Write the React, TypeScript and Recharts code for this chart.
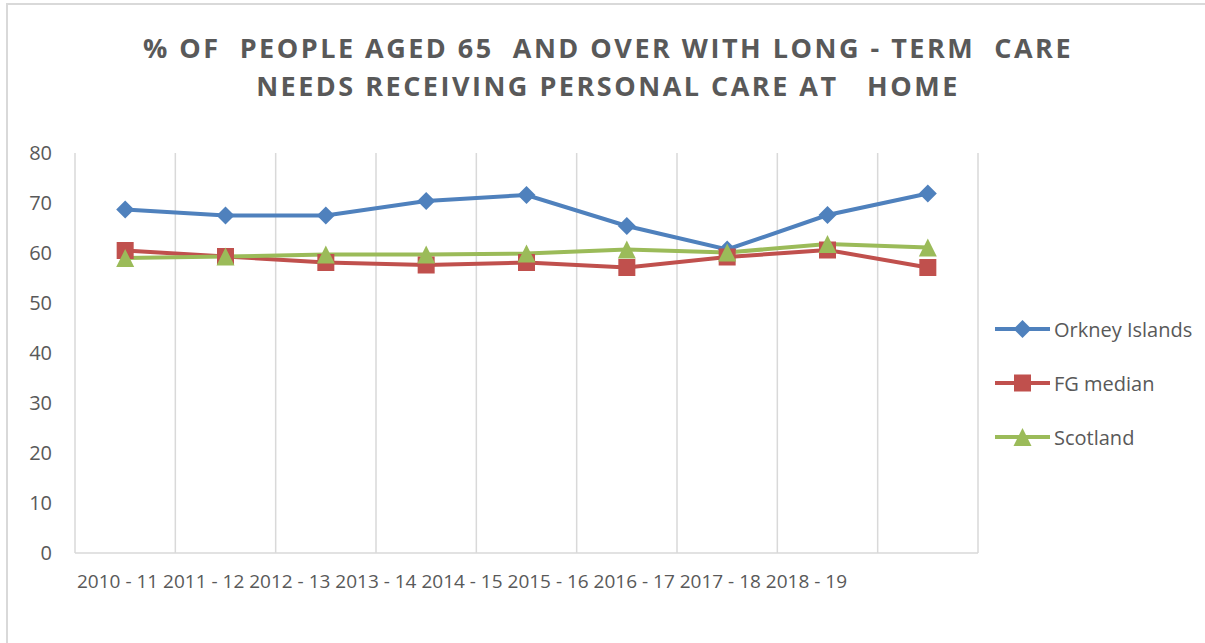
import React from 'react';
import { LineChart, Line, XAxis, YAxis, CartesianGrid } from 'recharts';

const categories = ['2010 - 11', '2011 - 12', '2012 - 13', '2013 - 14', '2014 - 15', '2015 - 16', '2016 - 17', '2017 - 18', '2018 - 19'];
const orkney = [68.7, 67.5, 67.5, 70.4, 71.6, 65.4, 60.7, 67.6, 71.9];
const fgMedian = [60.5, 59.3, 58.1, 57.6, 58.1, 57.1, 59.2, 60.6, 57.1];
const scotland = [59.0, 59.3, 59.7, 59.7, 59.9, 60.7, 60.1, 61.8, 61.1];
const yTicks = [0, 10, 20, 30, 40, 50, 60, 70, 80];

const titleLines = ['% OF  PEOPLE AGED 65  AND OVER WITH LONG - TERM  CARE', 'NEEDS RECEIVING PERSONAL CARE AT   HOME'];

const series = [
  { key: 'orkney', name: 'Orkney Islands', color: '#4f81bd', shape: 'diamond' },
  { key: 'fg', name: 'FG median', color: '#c0504d', shape: 'square' },
  { key: 'scotland', name: 'Scotland', color: '#9bbb59', shape: 'triangle' },
];

const data = categories.map((cat, i) => ({
  cat,
  orkney: orkney[i],
  fg: fgMedian[i],
  scotland: scotland[i],
}));

const FONT = '"Open Sans", sans-serif';
const TEXT = '#595959';
const GRID = '#d9d9d9';

function Marker({ cx, cy, shape, color }: { cx: number; cy: number; shape: string; color: string }) {
  if (cx == null || cy == null) return null;
  if (shape === 'diamond') {
    const r = 9;
    return <polygon points={`${cx},${cy - r} ${cx + r},${cy} ${cx},${cy + r} ${cx - r},${cy}`} fill={color} />;
  }
  if (shape === 'square') {
    const s = 8.5;
    return <rect x={cx - s} y={cy - s} width={s * 2} height={s * 2} fill={color} />;
  }
  // triangle
  return <polygon points={`${cx},${cy - 9} ${cx + 9},${cy + 9} ${cx - 9},${cy + 9}`} fill={color} />;
}

// legend sits to the right of the plot, Excel style
function ChartLegend() {
  return (
    <div style={{ position: 'absolute', left: 995, top: 302, fontFamily: FONT, fontSize: 20, color: TEXT }}>
      {series.map((s) => (
        <div key={s.key} style={{ height: 54, display: 'flex', alignItems: 'center' }}>
          <svg width={59} height={20} style={{ flex: 'none' }}>
            <line x1={0} x2={55} y1={10} y2={10} stroke={s.color} strokeWidth={4} />
            <Marker cx={27.5} cy={10} shape={s.shape} color={s.color} />
          </svg>
          <span style={{ whiteSpace: 'nowrap' }}>{s.name}</span>
        </div>
      ))}
    </div>
  );
}

export default function App() {
  return (
    <div style={{ position: 'absolute', left: 0, top: 0, width: 1205, height: 643, overflow: 'hidden', background: '#fff' }}>
      {/* chart frame, right/bottom edges fall outside the picture */}
      <div style={{ position: 'absolute', left: 6, top: 3, width: 1220, height: 660, border: `2px solid ${GRID}` }} />

      <LineChart width={1205} height={643} data={data} margin={{ top: 153, right: 227, bottom: 0, left: 0 }}>
        <CartesianGrid
          horizontal={false}
          stroke={GRID}
          strokeWidth={1.5}
          verticalCoordinatesGenerator={({ offset }: any) =>
            Array.from({ length: categories.length + 1 }, (_, i) => offset.left + (i * offset.width) / categories.length)
          }
        />
        <XAxis dataKey="cat" scale="band" height={90} tick={false} tickLine={false} axisLine={{ stroke: GRID, strokeWidth: 1.5 }} />
        <YAxis
          width={75}
          domain={[0, 80]}
          ticks={yTicks}
          axisLine={false}
          tickLine={false}
          tickSize={0}
          tickMargin={23}
          tick={{ fill: TEXT, fontSize: 20, fontFamily: FONT }}
        />
        {series.map((s) => (
          <Line
            key={s.key}
            dataKey={s.key}
            name={s.name}
            type="linear"
            stroke={s.color}
            strokeWidth={4}
            isAnimationActive={false}
            activeDot={false}
            dot={(p: any) => <Marker key={`${s.key}-${p.index}`} cx={p.cx} cy={p.cy} shape={s.shape} color={s.color} />}
          />
        ))}
      </LineChart>

      <ChartLegend />

      <svg width={1205} height={643} style={{ position: 'absolute', left: 0, top: 0, pointerEvents: 'none' }}>
        {titleLines.map((line, i) => (
          <text
            key={i}
            x={608}
            y={58 + i * 38}
            textAnchor="middle"
            fill={TEXT}
            fontFamily={FONT}
            fontWeight={700}
            fontSize={27}
            style={{ whiteSpace: 'pre', letterSpacing: 2.5 }}
          >
            {line}
          </text>
        ))}
        <text x={77} y={588} fill={TEXT} fontFamily={FONT} fontSize={19} style={{ whiteSpace: 'pre' }}>
          {categories.join(' ')}
        </text>
      </svg>
    </div>
  );
}
